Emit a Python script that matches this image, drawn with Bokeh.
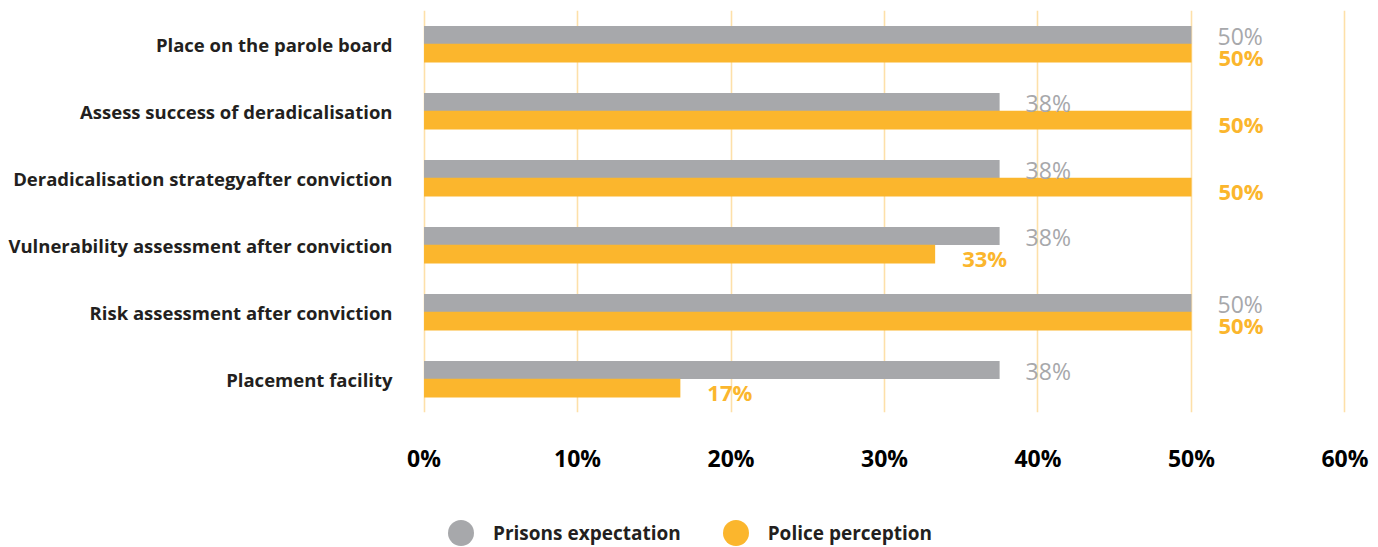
from bokeh.plotting import figure
from bokeh.layouts import column
from bokeh.models import ColumnDataSource, FactorRange, FixedTicker, NumeralTickFormatter, Legend, LegendItem
from bokeh.transform import dodge
from bokeh.core.properties import value
from bokeh.embed import file_html
from bokeh.resources import INLINE

categories = [
    "Place on the parole board",
    "Assess success of deradicalisation",
    "Deradicalisation strategyafter conviction",
    "Vulnerability assessment after conviction",
    "Risk assessment after conviction",
    "Placement facility",
]
prisons_expectation = [50, 37.5, 37.5, 37.5, 50, 37.5]
police_perception = [50, 50, 50, 33.3, 50, 16.7]
x_ticks = [0, 10, 20, 30, 40, 50, 60]
series_names = ["Prisons expectation", "Police perception"]

GRAY = "#a7a8ab"
ORANGE = "#fbb62d"
FONT = "Open Sans"
W = 1376

src = ColumnDataSource(dict(
    cat=categories,
    pr=[v / 100 for v in prisons_expectation],
    po=[v / 100 for v in police_perception],
    pr_lbl=[f"{round(v)}%" for v in prisons_expectation],
    po_lbl=[f"{round(v)}%" for v in police_perception],
))

p = figure(
    width=W, height=490,
    y_range=FactorRange(*reversed(categories), range_padding=0),
    x_range=(-0.001, 0.601),
    output_backend="svg", toolbar_location=None,
    min_border_left=422, min_border_right=30, min_border_top=10, min_border_bottom=78,
)
p.outline_line_color = None
p.background_fill_color = "white"
p.border_fill_color = "white"

p.hbar(y=dodge("cat", 0.135, range=p.y_range), right="pr", left=0, height=0.27,
       source=src, color=GRAY, line_color=None)
p.hbar(y=dodge("cat", -0.135, range=p.y_range), right="po", left=0, height=0.28,
       source=src, color=ORANGE, line_color=None)

p.text(x="pr", y=dodge("cat", 0.135, range=p.y_range), text="pr_lbl", source=src,
       x_offset=26, y_offset=1, text_align="left", text_baseline="middle",
       text_font=value(FONT), text_font_size="23px", text_color=GRAY)
p.text(x="po", y=dodge("cat", -0.135, range=p.y_range), text="po_lbl", source=src,
       x_offset=27, y_offset=4, text_align="left", text_baseline="middle",
       text_font=value(FONT), text_font_size="22px", text_font_style="bold", text_color=ORANGE)

# axes
p.xaxis.ticker = FixedTicker(ticks=[t / 100 for t in x_ticks])
p.xaxis.formatter = NumeralTickFormatter(format="0%")
p.xaxis.axis_line_color = None
p.xaxis.major_tick_line_color = None
p.xaxis.minor_tick_line_color = None
p.xaxis.major_label_standoff = 23
p.xaxis.major_label_text_font = FONT
p.xaxis.major_label_text_font_size = "23px"
p.xaxis.major_label_text_font_style = "bold"
p.xaxis.major_label_text_color = "#000000"

p.yaxis.axis_line_color = None
p.yaxis.major_tick_line_color = None
p.yaxis.minor_tick_line_color = None
p.yaxis.major_label_standoff = 24
p.yaxis.major_label_text_font = FONT
p.yaxis.major_label_text_font_size = "18.5px"
p.yaxis.major_label_text_font_style = "bold"
p.yaxis.major_label_text_color = "#231f20"

p.xgrid.grid_line_color = "#fde0a9"
p.xgrid.grid_line_width = 1.6
p.ygrid.grid_line_color = None

# legend strip below the chart
lf = figure(
    width=W, height=57, x_range=(0, 1), y_range=(0, 1),
    output_backend="svg", toolbar_location=None,
    x_axis_location=None, y_axis_location=None,
    min_border_left=0, min_border_right=0, min_border_top=0, min_border_bottom=0,
)
lf.outline_line_color = None
lf.grid.visible = False
r1 = lf.scatter(x=[-5], y=[-5], marker="circle", fill_color=GRAY, line_color=None)
r2 = lf.scatter(x=[-5], y=[-5], marker="circle", fill_color=ORANGE, line_color=None)
legend = Legend(
    items=[LegendItem(label=series_names[0], renderers=[r1]),
           LegendItem(label=series_names[1], renderers=[r2])],
    orientation="horizontal", location=(6, -18),
    glyph_width=65, glyph_height=65, label_standoff=0, spacing=22,
    padding=0, margin=0, border_line_color=None, background_fill_alpha=0,
    label_text_font=FONT, label_text_font_size="19px", label_text_font_style="bold",
    label_text_color="#231f20",
)
lf.add_layout(legend, "center")

open("out.html", "w").write(file_html(column(p, lf, spacing=0), INLINE))
